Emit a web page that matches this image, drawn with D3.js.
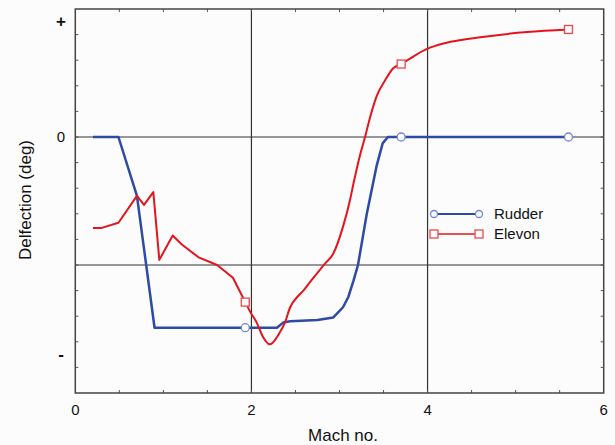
<!DOCTYPE html>
<html>
<head>
<meta charset="utf-8">
<script src="https://cdn.jsdelivr.net/npm/d3@7"></script>
<style>
  body { margin: 0; background: #fcfcfc; }
  svg { display: block; font-family: "Liberation Sans", Arial, sans-serif; }
</style>
</head>
<body>
<svg width="615" height="445"></svg>
<script>
// data (x = Mach no., y = deflection in grid units)
var rudderX = [0.2, 0.49, 0.70, 0.90, 1.93, 2.29, 2.36, 2.44, 2.75, 2.93, 3.04, 3.10, 3.16, 3.21, 3.31, 3.42, 3.49, 3.55, 3.70, 5.60];
var rudderY = [0, 0, -0.46, -1.49, -1.49, -1.49, -1.45, -1.44, -1.43, -1.41, -1.33, -1.25, -1.12, -1.0, -0.60, -0.23, -0.05, 0, 0, 0];
var rudderMarkIdx = [4, 18, 19];

var elevonX = [0.2, 0.30, 0.49, 0.70, 0.78, 0.886, 0.954, 1.106, 1.21, 1.40, 1.61, 1.79, 1.93, 1.99, 2.06, 2.13, 2.21, 2.32, 2.38, 2.44, 2.52, 2.59, 2.68, 2.835, 2.93, 3.04, 3.12, 3.16, 3.23, 3.29, 3.35, 3.42, 3.52, 3.61, 3.70, 4.00, 4.18, 4.40, 4.60, 5.13, 5.60];
var elevonY = [-0.71, -0.71, -0.67, -0.46, -0.53, -0.43, -0.96, -0.77, -0.84, -0.94, -1.0, -1.10, -1.29, -1.37, -1.45, -1.56, -1.62, -1.53, -1.45, -1.33, -1.25, -1.20, -1.12, -0.99, -0.91, -0.70, -0.49, -0.36, -0.15, 0, 0.16, 0.315, 0.445, 0.537, 0.57, 0.69, 0.73, 0.76, 0.78, 0.82, 0.84];
var elevonMarkIdx = [12, 34, 40];
var elevonSmoothFrom = 12; // jagged part before, smooth curve after

var xTickVals = [0, 2, 4, 6];
var yTickVals = [0.9, 0, -1.7];
var yTickLabels = ['+', '0', '-'];
var seriesNames = ['Rudder', 'Elevon'];

var svg = d3.select('svg');
var pLeft = 75.3, pRight = 603.7, pTop = 9, pBottom = 393;

var x = d3.scaleLinear().domain([0, 6]).range([pLeft, pRight]);
var y = d3.scaleLinear().domain([1, -2]).range([pTop, pBottom]);

var blue = '#2d4aa6', blueMark = '#7487c8';
var red = '#e5141c', redMark = '#e84a4a';

// grid lines
svg.append('g').selectAll('line').data([2, 4]).enter().append('line')
  .attr('x1', d => x(d)).attr('x2', d => x(d)).attr('y1', pTop).attr('y2', pBottom)
  .attr('stroke', '#333').attr('stroke-width', 1.2);
svg.append('g').selectAll('line').data([0, -1]).enter().append('line')
  .attr('x1', pLeft).attr('x2', pRight).attr('y1', d => y(d)).attr('y2', d => y(d))
  .attr('stroke', '#333').attr('stroke-width', 1.2);

// minor ticks, pointing inwards
var xMinor = d3.range(0.5, 6, 0.5);
var yMinor = d3.range(-1.8, 1, 0.2);
var tk = svg.append('g').attr('stroke', '#555').attr('stroke-width', 1);
xMinor.forEach(function(v) {
  tk.append('line').attr('x1', x(v)).attr('x2', x(v)).attr('y1', pTop).attr('y2', pTop + 3);
  tk.append('line').attr('x1', x(v)).attr('x2', x(v)).attr('y1', pBottom).attr('y2', pBottom - 3);
});
yMinor.forEach(function(v) {
  tk.append('line').attr('y1', y(v)).attr('y2', y(v)).attr('x1', pLeft).attr('x2', pLeft + 3);
  tk.append('line').attr('y1', y(v)).attr('y2', y(v)).attr('x1', pRight).attr('x2', pRight - 3);
});

// frame
svg.append('rect').attr('x', pLeft).attr('y', pTop).attr('width', pRight - pLeft).attr('height', pBottom - pTop)
  .attr('fill', 'none').attr('stroke', '#444').attr('stroke-width', 1.5);

// tick labels
svg.append('g').selectAll('text').data(xTickVals).enter().append('text')
  .attr('x', d => x(d)).attr('y', 415).attr('text-anchor', 'middle')
  .attr('font-size', 15).attr('fill', '#111').text(d => d);
svg.append('g').selectAll('text').data(yTickVals).enter().append('text')
  .attr('x', 61).attr('y', d => y(d) + 5).attr('text-anchor', 'middle')
  .attr('font-size', (d, i) => i == 1 ? 15 : 17).attr('font-weight', (d, i) => i == 1 ? 'normal' : 'bold')
  .attr('fill', '#111').text((d, i) => yTickLabels[i]);

// axis titles
svg.append('text').attr('x', 343).attr('y', 441).attr('text-anchor', 'middle')
  .attr('font-size', 17).attr('fill', '#111').text('Mach no.');
svg.append('text').attr('transform', 'translate(31,200) rotate(-90)').attr('text-anchor', 'middle')
  .attr('font-size', 17).attr('fill', '#111').text('Delfection (deg)');

var line = d3.line().x(d => x(d[0])).y(d => y(d[1]));
var smooth = d3.line().x(d => x(d[0])).y(d => y(d[1])).curve(d3.curveMonotoneX);
var rudder = rudderX.map((v, i) => [v, rudderY[i]]);
var elevon = elevonX.map((v, i) => [v, elevonY[i]]);

svg.append('path').datum(rudder).attr('d', line).attr('fill', 'none')
  .attr('stroke', blue).attr('stroke-width', 2.5).attr('stroke-linejoin', 'round');
svg.append('path').datum(elevon.slice(0, elevonSmoothFrom + 1)).attr('d', line).attr('fill', 'none')
  .attr('stroke', red).attr('stroke-width', 2).attr('stroke-linejoin', 'round');
svg.append('path').datum(elevon.slice(elevonSmoothFrom)).attr('d', smooth).attr('fill', 'none')
  .attr('stroke', red).attr('stroke-width', 2).attr('stroke-linejoin', 'round');

svg.append('g').selectAll('circle').data(rudderMarkIdx.map(i => rudder[i])).enter().append('circle')
  .attr('cx', d => x(d[0])).attr('cy', d => y(d[1])).attr('r', 4)
  .attr('fill', '#fcfcfc').attr('stroke', blueMark).attr('stroke-width', 1.3);
svg.append('g').selectAll('rect').data(elevonMarkIdx.map(i => elevon[i])).enter().append('rect')
  .attr('x', d => x(d[0]) - 4).attr('y', d => y(d[1]) - 4).attr('width', 8).attr('height', 8)
  .attr('fill', '#fcfcfc').attr('stroke', redMark).attr('stroke-width', 1.3);

// legend
var lg = svg.append('g');
[214, 234].forEach(function(ly, i) {
  var col = i == 0 ? blue : red;
  lg.append('line').attr('x1', 434).attr('x2', 479).attr('y1', ly).attr('y2', ly)
    .attr('stroke', col).attr('stroke-width', i == 0 ? 2 : 1.5);
  [434, 479].forEach(function(lx) {
    if (i == 0) {
      lg.append('circle').attr('cx', lx).attr('cy', ly).attr('r', 3.5)
        .attr('fill', '#fcfcfc').attr('stroke', blueMark).attr('stroke-width', 1.3);
    } else {
      lg.append('rect').attr('x', lx - 4).attr('y', ly - 4).attr('width', 8).attr('height', 8)
        .attr('fill', '#fcfcfc').attr('stroke', redMark).attr('stroke-width', 1.3);
    }
  });
  lg.append('text').attr('x', 494).attr('y', ly + 5).attr('font-size', 15)
    .attr('fill', '#111').text(seriesNames[i]);
});
</script>
</body>
</html>
